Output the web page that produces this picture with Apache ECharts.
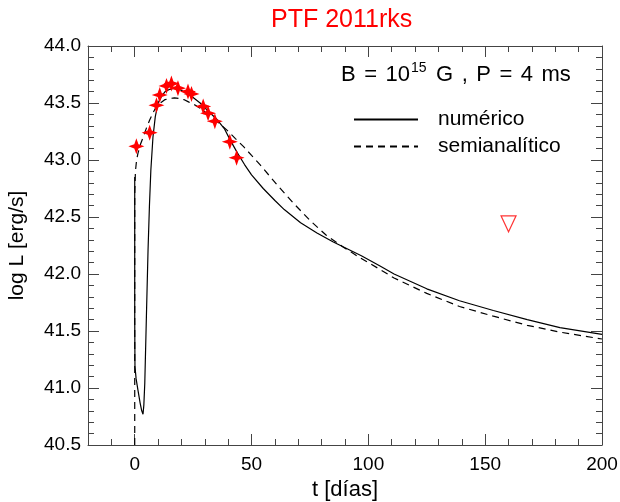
<!DOCTYPE html>
<html><head><meta charset="utf-8">
<script src="https://cdn.jsdelivr.net/npm/echarts@6/dist/echarts.min.js"></script>
<style>html,body{margin:0;padding:0;background:#fff}#c{width:620px;height:502px}</style>
</head><body><div id="c"></div>
<script>
// numeric model (solid)
const numT = [0, 0, 0.1, 0.6, 1.4, 2.3, 3.0, 3.55, 3.9, 4.3, 5.0, 5.7, 6.3, 6.9, 7.8, 8.8, 10, 11.5, 13, 15, 17, 19, 21, 24.3, 28, 31.4, 35, 38.5, 41, 44, 47, 50, 55, 60, 64, 71, 78, 85, 92, 97, 105, 111, 125, 139, 153.5, 168, 182, 200];
const numL = [42.85, 41.6, 41.19, 41.08, 40.98, 40.87, 40.8, 40.77, 40.85, 41.04, 41.63, 42.21, 42.6, 42.91, 43.2, 43.38, 43.5, 43.56, 43.6, 43.62, 43.63, 43.62, 43.6, 43.56, 43.5, 43.43, 43.36, 43.27, 43.17, 43.06, 42.96, 42.87, 42.75, 42.645, 42.565, 42.45, 42.36, 42.28, 42.21, 42.16, 42.07, 42.0, 41.87, 41.765, 41.68, 41.6, 41.53, 41.47];
// semi-analytic model (dashed)
const semiT = [0, 0, 0.3, 0.8, 1.4, 2.5, 3.6, 5, 6.4, 8, 9.3, 11, 13, 15, 17, 19, 21, 23, 26, 29, 32, 36, 39.6, 43, 46.7, 50, 53.8, 61, 68, 75, 82, 89, 96.6, 105, 111, 125, 139, 153.5, 168, 182, 200];
const semiL = [40.5, 42.7, 42.9, 43.0, 43.06, 43.14, 43.2, 43.28, 43.35, 43.42, 43.47, 43.5, 43.53, 43.54, 43.545, 43.54, 43.53, 43.51, 43.48, 43.44, 43.39, 43.325, 43.26, 43.19, 43.115, 43.04, 42.955, 42.78, 42.62, 42.47, 42.34, 42.24, 42.14, 42.04, 41.965, 41.83, 41.715, 41.63, 41.55, 41.49, 41.43];
// observations PTF 2011rks
const obsT = [0.7, 6.4, 9.3, 10.7, 13.6, 15.7, 18.5, 22.8, 24.3, 29.3, 31.4, 34.3, 40.7, 43.6];
const obsL = [43.12, 43.24, 43.48, 43.57, 43.65, 43.67, 43.63, 43.60, 43.58, 43.47, 43.41, 43.34, 43.16, 43.02];
// upper limit
const limT = [160];
const limL = [42.44];
// ticks
const xMajor = [0, 50, 100, 150, 200];

const FONT = "'Liberation Sans', Arial, Helvetica, sans-serif";
const zip = (a, b) => a.map((v, i) => [v, b[i]]);
const frame = {color: '#444', width: 1};

function xAx(pos, major, labels) {
  return {
    type: 'value', min: -20, max: 200, interval: 10, position: pos,
    axisLine: {show: !major, onZero: false, lineStyle: frame},
    axisTick: major ? {show: true, inside: true, length: 11, lineStyle: frame, customValues: xMajor}
                    : {show: true, inside: true, length: 6, lineStyle: frame},
    axisLabel: labels ? {show: true, customValues: xMajor, fontSize: 19, color: '#000', fontFamily: FONT, margin: 10}
                      : {show: false},
    splitLine: {show: false},
    name: labels ? 't [días]' : '', nameLocation: 'middle', nameGap: 33,
    nameTextStyle: {fontSize: 22, color: '#000', fontFamily: FONT, verticalAlign: 'top'}
  };
}
function yAx(pos, labels) {
  return {
    type: 'value', min: 40.5, max: 44.0, interval: 0.5, position: pos,
    axisLine: {show: true, onZero: false, lineStyle: frame},
    axisTick: {show: true, inside: true, length: 11, lineStyle: frame},
    minorTick: {show: true, splitNumber: 5, length: 6, lineStyle: frame},
    axisLabel: labels ? {show: true, fontSize: 19, color: '#000', fontFamily: FONT, margin: 7,
                         formatter: v => v.toFixed(1)} : {show: false},
    splitLine: {show: false}, minorSplitLine: {show: false},
    name: labels ? 'log L [erg/s]' : '', nameLocation: 'middle', nameGap: 60,
    nameTextStyle: {fontSize: 21, color: '#000', fontFamily: FONT}
  };
}

const chart = echarts.init(document.getElementById('c'), null, {renderer: 'canvas'});
chart.setOption({
  backgroundColor: '#fff',
  animation: false,
  textStyle: {fontFamily: FONT},
  title: [
    {text: 'PTF 2011rks', left: 266, top: 3,
     textStyle: {color: '#ff0000', fontSize: 25, fontWeight: 'normal', fontFamily: FONT}},
    {text: '{a|B}{sp| }{a|=}{sp| }{a|10}{s|15}{sp| }{a|G}{sp| }{a|,}{sp| }{a|P}{sp| }{a|=}{sp| }{a|4}{sp| }{a|ms}',
     left: 336, top: 56,
     textStyle: {fontWeight: 'normal', rich: {
       a: {fontSize: 22, color: '#000', fontFamily: FONT, fontWeight: 'normal', verticalAlign: 'bottom', lineHeight: 25},
       sp: {fontSize: 22, width: 8.5, fontWeight: 'normal', lineHeight: 25},
       s: {fontSize: 14, color: '#000', fontFamily: FONT, fontWeight: 'normal', verticalAlign: 'top', lineHeight: 25, padding: [0, 1, 10, 1]}
     }}}
  ],
  legend: {
    orient: 'vertical', left: 348, top: 104, itemWidth: 64, itemHeight: 14, itemGap: 6,
    data: ['numérico', 'semianalítico'],
    itemStyle: {opacity: 0},
    textStyle: {fontSize: 21, color: '#000', fontFamily: FONT, padding: [0, 0, 0, 15], lineHeight: 20}
  },
  grid: {left: 88, right: 18, top: 46, bottom: 57, containLabel: false, outerBoundsMode: 'none'},
  xAxis: [xAx('bottom', false, true), xAx('top', false, false), xAx('bottom', true, false), xAx('top', true, false)],
  yAxis: [yAx('left', true), yAx('right', false)],
  series: [
    {name: 'numérico', type: 'line', xAxisIndex: 0, yAxisIndex: 0, data: zip(numT, numL),
     symbol: 'none', lineStyle: {color: '#000', width: 1.2}, itemStyle: {color: '#000'}, z: 3},
    {name: 'semianalítico', type: 'line', xAxisIndex: 0, yAxisIndex: 0, data: zip(semiT, semiL),
     symbol: 'none', lineStyle: {color: '#000', width: 1.2, type: [7, 5]}, itemStyle: {color: '#000'}, z: 3},
    {name: 'obs', type: 'scatter', xAxisIndex: 0, yAxisIndex: 0, data: zip(obsT, obsL),
     symbol: 'path://M0,-10 L2.6,-2.6 L10,0 L2.6,2.6 L0,10 L-2.6,2.6 L-10,0 L-2.6,-2.6 Z',
     symbolSize: 16, itemStyle: {color: '#ff0000', opacity: 1}, z: 4},
    {name: 'lim', type: 'scatter', xAxisIndex: 0, yAxisIndex: 0, data: zip(limT, limL),
     symbol: 'path://M0,0 L16,0 L8,17 Z', symbolSize: [15, 16],
     itemStyle: {color: 'rgba(255,255,255,0)', borderColor: '#ff0000', borderWidth: 1.2}, z: 4}
  ]
});
</script></body></html>
